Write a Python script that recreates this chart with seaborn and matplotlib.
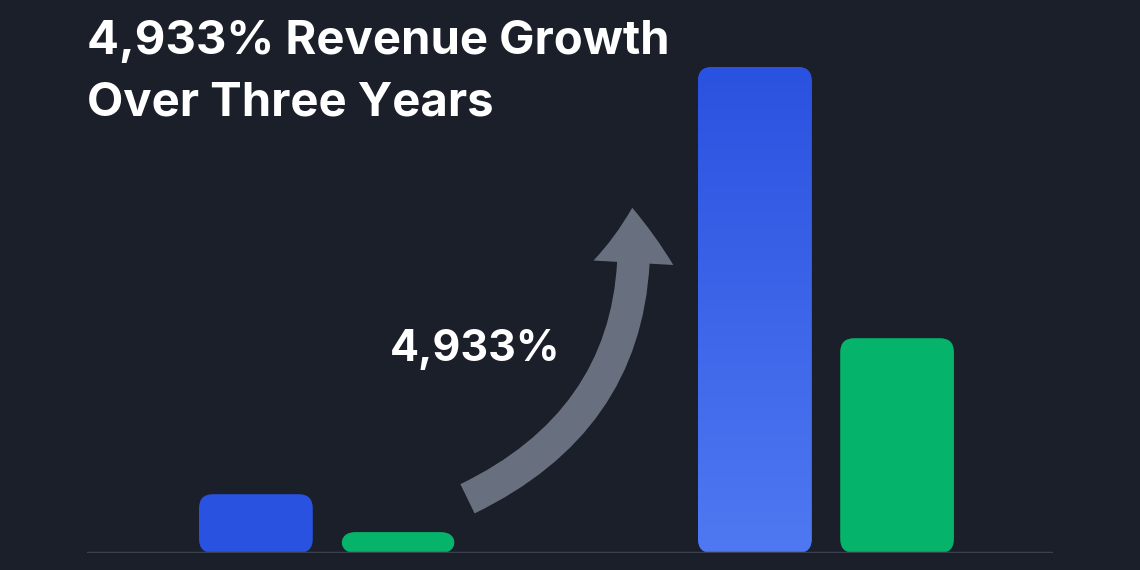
import numpy as np
import pandas as pd
import matplotlib.pyplot as plt
import seaborn as sns
from matplotlib.patches import FancyBboxPatch, FancyArrowPatch
from matplotlib.colors import LinearSegmentedColormap

periods = ['Before', 'After']
series = ['Revenue', 'Other']
blue_vals = [12.1, 100.0]
green_vals = [4.3, 44.2]
title_lines = ['4,933% Revenue Growth', 'Over Three Years']
growth_label = '4,933%'

bg = '#1a1f29'
blue = '#2a52e0'
green = '#05b36a'

df = pd.DataFrame({
    'period': periods * 2,
    'series': [series[0]] * 2 + [series[1]] * 2,
    'value': blue_vals + green_vals,
})

sns.set_style('dark')
plt.rcParams['font.family'] = ['Inter', 'DejaVu Sans']
fig = plt.figure(figsize=(11.4, 5.7), dpi=100, facecolor=bg)
ax = fig.add_axes([87 / 1140, 17 / 570, 966 / 1140, 486 / 570])
ax.set_facecolor(bg)

sns.barplot(data=df, x='period', y='value', hue='series', palette=[blue, green],
            width=0.57, gap=0.2, saturation=1, ax=ax, legend=False)
ax.set_xlim(-0.481, 1.455)
ax.set_ylim(0, 100)
for s in ax.spines.values():
    s.set_visible(False)
ax.set_xticks([])
ax.set_yticks([])
ax.set_xlabel('')
ax.set_ylabel('')
ax.axhline(0, color='#3a404c', lw=2.5, zorder=5)

# px per data unit, used for rounded corners
px_x = 966 / (1.455 + 0.481)
px_y = 486 / 100
cmap_blue = LinearSegmentedColormap.from_list('b', ['#2a52e0', '#4f78f2'])
for p in list(ax.patches):
    x, y = p.get_x(), p.get_y()
    w, h = p.get_width(), p.get_height()
    col = p.get_facecolor()
    p.set_visible(False)
    rx = 14 / px_x
    ry = 14 / px_y
    box = FancyBboxPatch((x + rx, y + ry), w - 2 * rx, h - 2 * ry,
                         boxstyle=f'round,pad={rx}', mutation_aspect=px_x / px_y,
                         facecolor=col, edgecolor='none', zorder=3)
    ax.add_patch(box)
    if h > 50 and col[2] > col[1]:
        grad = np.linspace(0, 1, 200).reshape(-1, 1)
        im = ax.imshow(grad, cmap=cmap_blue, extent=(x, x + w, 0, h),
                       aspect='auto', zorder=4)
        im.set_clip_path(box)
ax.set_xlim(-0.481, 1.455)
ax.set_ylim(0, 100)

# curved growth arrow, in figure pixels
arrow = FancyArrowPatch((465 / 1140, 1 - 500 / 570), (632 / 1140, 1 - 205 / 570),
                        transform=fig.transFigure, connectionstyle='arc3,rad=0.35',
                        arrowstyle='simple,head_width=3.2,head_length=2.2,tail_width=1.3',
                        mutation_scale=18, facecolor='#7d8595', edgecolor='none',
                        alpha=0.8, zorder=6)
fig.patches.append(arrow)

fig.text(475 / 1140, 1 - 350 / 570, growth_label, color='white', fontsize=31,
         fontweight='bold', ha='center', va='center')
fig.text(87 / 1140, 1 - 42 / 570, title_lines[0], color='white', fontsize=34,
         fontweight='bold', ha='left', va='center')
fig.text(87 / 1140, 1 - 104 / 570, title_lines[1], color='white', fontsize=34,
         fontweight='bold', ha='left', va='center')

fig.savefig('out.png', dpi=100, facecolor=bg)
